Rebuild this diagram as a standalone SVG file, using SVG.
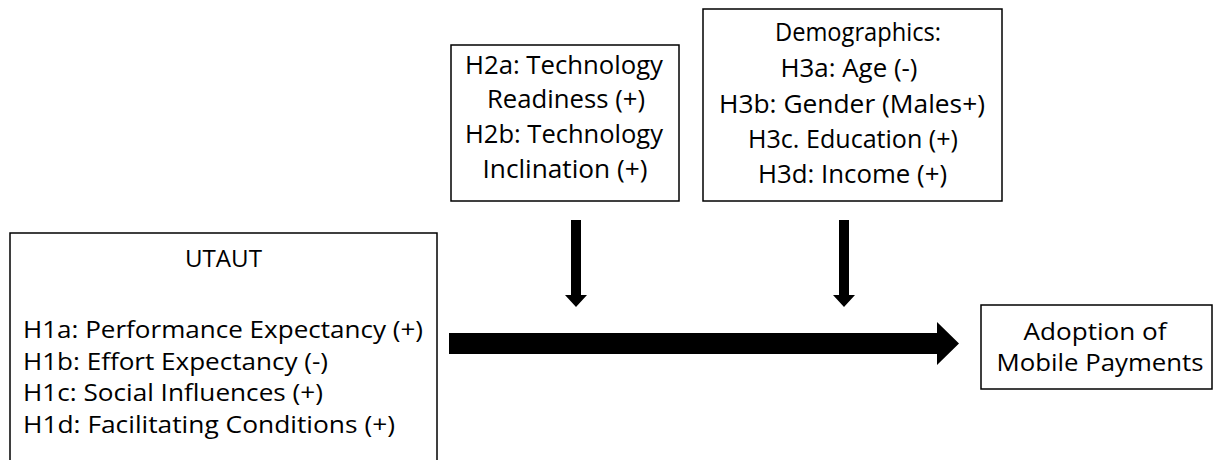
<svg xmlns="http://www.w3.org/2000/svg" width="1214" height="460" viewBox="0 0 1214 460">
<style>
.box{fill:#fff;stroke:#000;stroke-width:1.5}
.t{font-family:"Open Sans","Liberation Sans",sans-serif;fill:#000}
.s{font-size:24px}
.l{font-size:25.5px}
.m{font-size:23.5px}
.c{text-anchor:middle}
.arr{fill:#000;stroke:none}
</style>
<rect width="1214" height="460" fill="#fff"/>
<g id="utaut">
<rect class="box" x="10" y="233" width="427" height="240"/>
<text class="t s c" x="223.5" y="267" textLength="77" lengthAdjust="spacingAndGlyphs">UTAUT</text>
<text class="t s" x="23" y="338" textLength="400" lengthAdjust="spacingAndGlyphs">H1a: Performance Expectancy (+)</text>
<text class="t s" x="23" y="370" textLength="305" lengthAdjust="spacingAndGlyphs">H1b: Effort Expectancy (-)</text>
<text class="t s" x="23" y="401" textLength="300" lengthAdjust="spacingAndGlyphs">H1c: Social Influences (+)</text>
<text class="t s" x="23" y="433" textLength="372" lengthAdjust="spacingAndGlyphs">H1d: Facilitating Conditions (+)</text>
</g>
<g id="technology">
<rect class="box" x="451" y="45" width="228" height="156"/>
<text class="t l c" x="564" y="74" textLength="198" lengthAdjust="spacingAndGlyphs">H2a: Technology</text>
<text class="t l c" x="566" y="108" textLength="158" lengthAdjust="spacingAndGlyphs">Readiness (+)</text>
<text class="t l c" x="564" y="143" textLength="198" lengthAdjust="spacingAndGlyphs">H2b: Technology</text>
<text class="t l c" x="565" y="178" textLength="165" lengthAdjust="spacingAndGlyphs">Inclination (+)</text>
</g>
<g id="demographics">
<rect class="box" x="703" y="9" width="299" height="192"/>
<text class="t l c" x="858" y="41" textLength="166" lengthAdjust="spacingAndGlyphs">Demographics:</text>
<text class="t l c" x="849" y="77" textLength="137" lengthAdjust="spacingAndGlyphs">H3a: Age (-)</text>
<text class="t l c" x="852" y="113" textLength="266" lengthAdjust="spacingAndGlyphs">H3b: Gender (Males+)</text>
<text class="t l c" x="853" y="148" textLength="210" lengthAdjust="spacingAndGlyphs">H3c. Education (+)</text>
<text class="t l c" x="852.5" y="183" textLength="189" lengthAdjust="spacingAndGlyphs">H3d: Income (+)</text>
</g>
<g id="adoption">
<rect class="box" x="981" y="305" width="231" height="84"/>
<text class="t m c" x="1095" y="340" textLength="143" lengthAdjust="spacingAndGlyphs">Adoption of</text>
<text class="t m c" x="1100" y="371" textLength="207" lengthAdjust="spacingAndGlyphs">Mobile Payments</text>
</g>
<g id="connectors">
<polygon class="arr" points="449,333 937,333 937,322 959,343.5 937,365 937,354 449,354"/>
<polygon class="arr" points="571,220 581,220 581,295 587,295 576,307 565,295 571,295"/>
<polygon class="arr" points="839,220 849,220 849,295 855,295 844,307 833,295 839,295"/>
</g>
</svg>
